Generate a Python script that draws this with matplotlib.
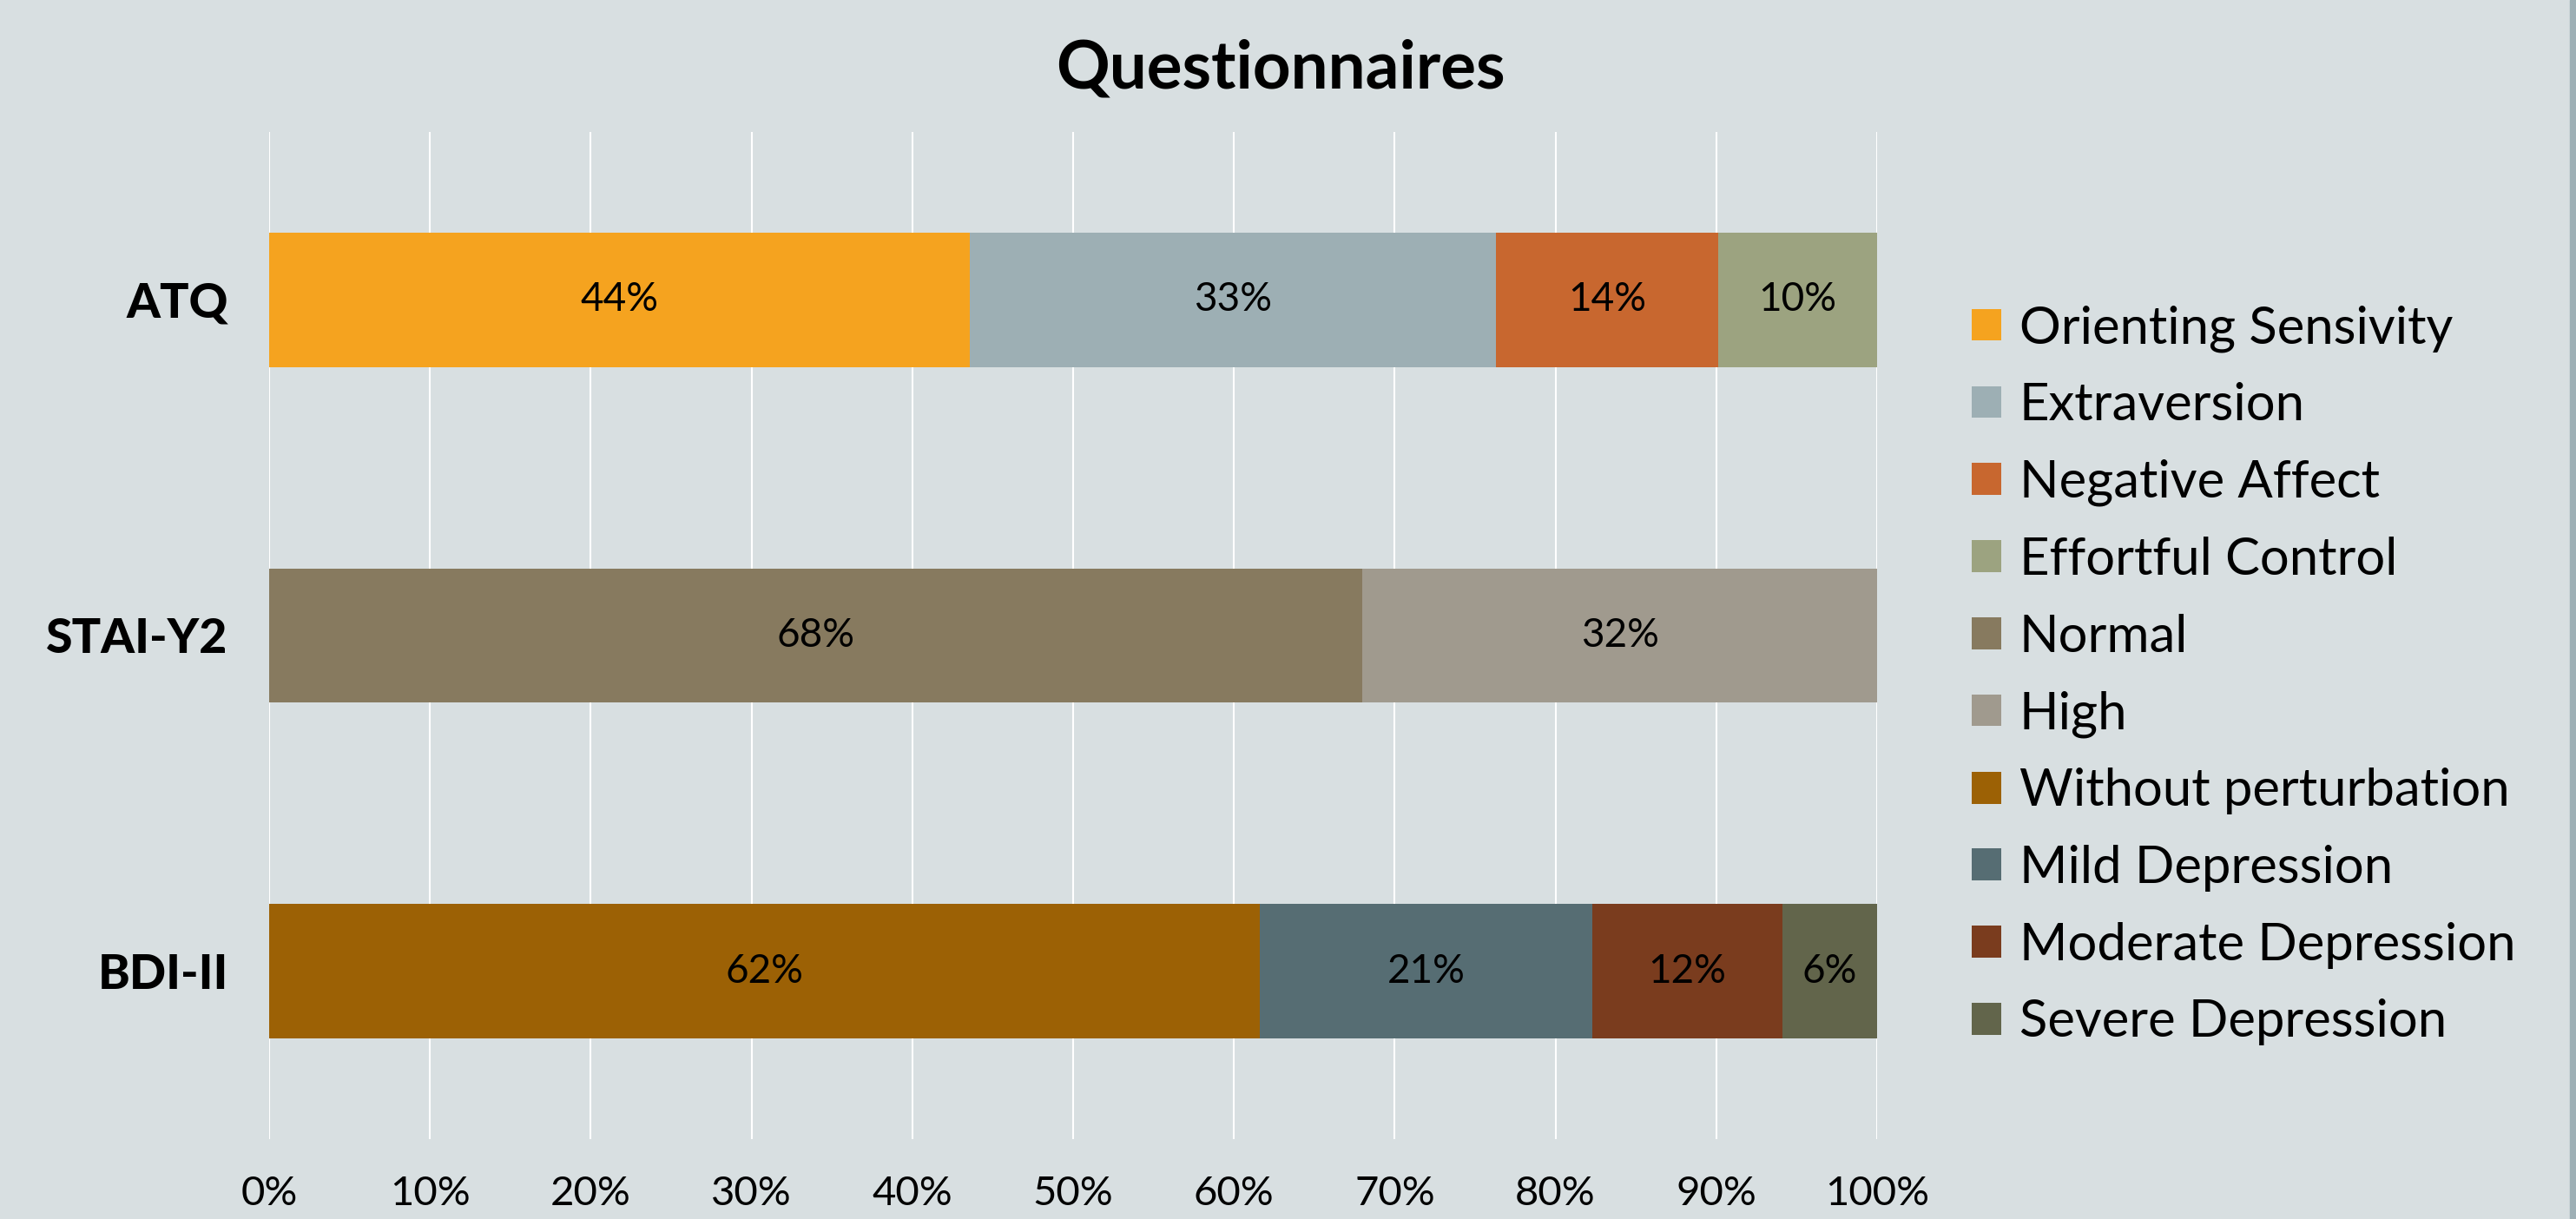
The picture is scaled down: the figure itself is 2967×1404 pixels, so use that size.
import numpy as np
import matplotlib
matplotlib.use('Agg')
import matplotlib.pyplot as plt
from matplotlib.patches import Rectangle

plt.rcParams['font.family'] = ['Lato', 'DejaVu Sans']

# --- data (percent of participants) ---
categories = ['ATQ', 'STAI-Y2', 'BDI-II']

atq_labels = ['Orienting Sensivity', 'Extraversion', 'Negative Affect', 'Effortful Control']
atq_values = [43.6, 32.7, 13.8, 9.9]

stai_labels = ['Normal', 'High']
stai_values = [68.0, 32.0]

bdi_labels = ['Without perturbation', 'Mild Depression', 'Moderate Depression', 'Severe Depression']
bdi_values = [61.6, 20.7, 11.8, 5.9]

atq_colors = ['#F5A31F', '#9DAFB4', '#C8672F', '#9CA380']
stai_colors = ['#877A5F', '#A09A8E']
bdi_colors = ['#9C6105', '#566D73', '#7A3C1E', '#62654B']

x_ticks = np.arange(0, 101, 10)

bg = '#D8DFE1'

fig = plt.figure(figsize=(29.67, 14.04), dpi=100, facecolor=bg)
ax = fig.add_axes([310 / 2967, 1 - 1312 / 1404, (2162 - 310) / 2967, (1312 - 152) / 1404])
ax.set_facecolor(bg)

groups = [
    (categories[0], atq_labels, atq_values, atq_colors),
    (categories[1], stai_labels, stai_values, stai_colors),
    (categories[2], bdi_labels, bdi_values, bdi_colors),
]

for cat, labels, values, colors in groups:
    left = 0
    for lab, val, col in zip(labels, values, colors):
        bars = ax.barh(cat, val, left=left, height=0.4, color=col, label=lab, zorder=3)
        ax.bar_label(bars, labels=[f'{val:.0f}%'], label_type='center', fontsize=33, color='black')
        left += val

ax.set_xlim(0, 100)
ax.set_ylim(2.5, -0.5)
ax.set_xticks(x_ticks)
ax.set_xticklabels([f'{t}%' for t in x_ticks], fontsize=34)
ax.tick_params(axis='x', length=0, pad=30)
ax.tick_params(axis='y', length=0, pad=34, labelsize=40)
for lbl in ax.get_yticklabels():
    lbl.set_fontweight('black')
ax.grid(axis='x', color='white', linewidth=1.5, zorder=0)
ax.grid(axis='y', visible=False)
for s in ax.spines.values():
    s.set_visible(False)

leg = fig.legend(loc='upper left', bbox_to_anchor=(2271 / 2967, 1 - 351 / 1404),
                 frameon=False, fontsize=43, handlelength=0.57, handleheight=0.57,
                 handletextpad=0.35, labelspacing=0.58, borderpad=0, borderaxespad=0)

fig.text(0.497, 1 - 102 / 1404, 'Questionnaires', ha='center', va='baseline',
         fontsize=55, fontweight='bold')

# thin border strip at the right edge
fig.patches.append(Rectangle((2960 / 2967, 0), 7 / 2967, 1, transform=fig.transFigure,
                             color='#9EAFB5', zorder=0))

fig.savefig('out.png', dpi=100, facecolor=bg)
